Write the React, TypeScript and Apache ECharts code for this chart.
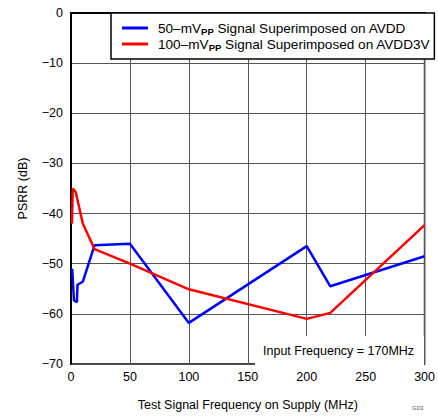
import React, { useEffect, useRef } from "react";
import * as echarts from "echarts";

const xTicks = [0, 50, 100, 150, 200, 250, 300];
const yTicks = [0, -10, -20, -30, -40, -50, -60, -70];

const seriesNames = [
  "50–mVPP Signal Superimposed on AVDD",
  "100–mVPP Signal Superimposed on AVDD3V",
];

const avddData: [number, number][] = [
  [1, -51], [2.5, -57.3], [5, -57.7], [5.5, -54.2], [10, -53.6], [20, -46.3],
  [50, -46], [100, -61.8], [200, -46.5], [220, -54.5], [300, -48.5],
];

const avdd3vData: [number, number][] = [
  [0.8, -42], [1.5, -35], [4, -35.7], [10, -42], [20, -47.1], [50, -50],
  [100, -55.1], [200, -61], [220, -59.8], [300, -42.3],
];

const annotation = "Input Frequency = 170MHz";

export default function App() {
  const ref = useRef<HTMLDivElement>(null);
  useEffect(() => {
    document.body.style.margin = "0";
    if (!ref.current) return;
    const chart = echarts.init(ref.current, null, { renderer: "svg" });
    const font = "Liberation Sans, Arial, sans-serif";
    chart.setOption({
      animation: false,
      textStyle: { fontFamily: font },
      grid: {
        left: 71, top: 13, right: 13, bottom: 50,
        show: true, borderColor: "#000", borderWidth: 1.5, backgroundColor: "transparent",
      },
      legend: {
        orient: "vertical",
        left: 111, top: 13,
        padding: [7, 4, 7, 11],
        itemGap: 0,
        itemWidth: 26, itemHeight: 3,
        icon: "rect",
        backgroundColor: "#fff",
        borderColor: "#000",
        borderWidth: 1.5,
        borderRadius: 0,
        data: seriesNames,
        textStyle: {
          fontSize: 13.6, color: "#000", fontFamily: font, lineHeight: 16,
          padding: [0, 0, 0, 5],
          rich: {
            pp: { fontSize: 9.5, fontWeight: "bold", color: "#000", lineHeight: 16, verticalAlign: "bottom", fontFamily: font },
            t: { fontSize: 13.6, color: "#000", lineHeight: 16, fontFamily: font },
          },
        },
        formatter: (name: string) => {
          const parts = name.split("PP");
          return `{t|${parts[0]}}{pp|PP}{t|${parts[1]}}`;
        },
      },
      xAxis: {
        type: "value",
        min: xTicks[0], max: xTicks[xTicks.length - 1], interval: 50,
        name: "Test Signal Frequency on Supply (MHz)",
        nameLocation: "middle", nameGap: 34,
        nameTextStyle: { fontSize: 12.5, color: "#000" },
        axisLine: { show: true, lineStyle: { color: "#000", width: 2 } },
        axisTick: { show: false },
        axisLabel: { color: "#000", fontSize: 12.5, margin: 6 },
        splitLine: { show: true, lineStyle: { color: "#555", width: 1 } },
      },
      yAxis: {
        type: "value",
        min: yTicks[yTicks.length - 1], max: yTicks[0], interval: 10,
        name: "PSRR (dB)",
        nameLocation: "middle", nameGap: 42, nameRotate: 90,
        nameTextStyle: { fontSize: 12.5, color: "#000" },
        axisLine: { show: true, lineStyle: { color: "#000", width: 2 } },
        axisTick: { show: false },
        axisLabel: {
          color: "#000", fontSize: 12.5, margin: 8,
          formatter: (v: number) => (v < 0 ? "−" + Math.abs(v) : String(v)),
        },
        splitLine: { show: true, lineStyle: { color: "#555", width: 1 } },
      },
      graphic: [
        {
          type: "rect", z: 5,
          shape: { x: 255, y: 336, width: 169, height: 29 },
          style: { fill: "#fff" },
        },
        {
          type: "text", z: 6, x: 263, y: 344,
          style: { text: annotation, fontSize: 12.5, fill: "#000", fontFamily: font },
        },
        {
          type: "text", z: 6, x: 412, y: 405,
          style: { text: "G03", fontSize: 6, fill: "#555", fontFamily: font },
        },
      ],
      series: [
        {
          name: seriesNames[0], type: "line", data: avddData, showSymbol: false,
          lineStyle: { color: "#0000ff", width: 2.5 }, itemStyle: { color: "#0000ff" }, z: 3,
        },
        {
          name: seriesNames[1], type: "line", data: avdd3vData, showSymbol: false,
          lineStyle: { color: "#ff0000", width: 2.5 }, itemStyle: { color: "#ff0000" }, z: 4,
        },
      ],
    });
    return () => chart.dispose();
  }, []);
  return <div ref={ref} style={{ width: 438, height: 416 }} />;
}
